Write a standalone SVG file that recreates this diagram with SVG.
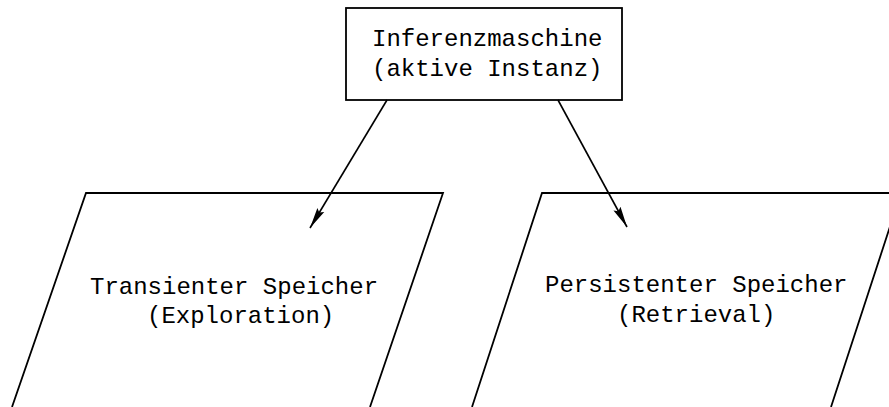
<svg xmlns="http://www.w3.org/2000/svg" width="889" height="407" viewBox="0 0 889 407">
<style>
.shape{fill:none;stroke:#000;stroke-width:1.8}
.conn{fill:none;stroke:#000;stroke-width:1.6}
.lbl{font-family:"Liberation Mono","DejaVu Sans Mono",monospace;font-size:24px;fill:#000}
</style>
<defs>
<marker id="arr" markerUnits="userSpaceOnUse" markerWidth="22" markerHeight="10" refX="21" refY="5" orient="auto">
<path d="M0,1 L21,5 L0,9 L3,5 z" fill="#000"/>
</marker>
</defs>
<rect width="889" height="407" fill="#fff"/>
<g id="connectors">
<line class="conn" x1="387" y1="100" x2="310" y2="228" marker-end="url(#arr)"/>
<line class="conn" x1="558" y1="100" x2="627" y2="227" marker-end="url(#arr)"/>
</g>
<g id="inferenzmaschine">
<rect class="shape" x="346" y="8" width="276" height="92"/>
<text class="lbl" x="372" y="46">Inferenzmaschine</text>
<text class="lbl" x="372" y="76">(aktive Instanz)</text>
</g>
<g id="transient">
<path class="shape" d="M12,407 L86,193 L443,193 L370,407"/>
<text class="lbl" x="90" y="294">Transienter Speicher</text>
<text class="lbl" x="147" y="323">(Exploration)</text>
</g>
<g id="persistent">
<path class="shape" d="M472,407 L542,193 L901,193 L831,407"/>
<text class="lbl" x="545" y="292">Persistenter Speicher</text>
<text class="lbl" x="617" y="322">(Retrieval)</text>
</g>
</svg>
